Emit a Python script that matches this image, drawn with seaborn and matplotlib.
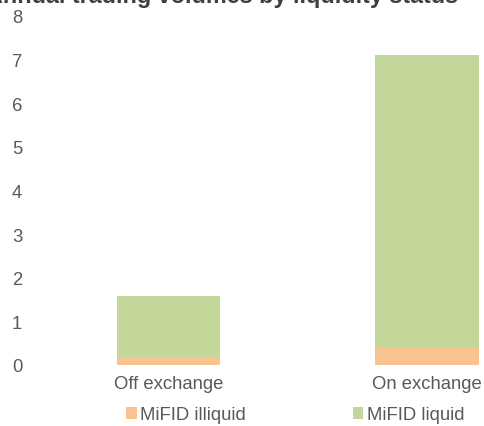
import matplotlib
matplotlib.use("Agg")
import matplotlib.pyplot as plt
from matplotlib.patches import Patch
import seaborn as sns
import pandas as pd

# Trading volumes by venue and MiFID liquidity status
venues = ["Off exchange", "On exchange"]
illiquid = [0.19, 0.39]
liquid = [1.39, 6.72]
series_names = ["MiFID illiquid", "MiFID liquid"]
y_ticks = [0, 1, 2, 3, 4, 5, 6, 7, 8]
title = "Annual trading volumes by liquidity status"

col_illiquid = "#F8C291"
col_liquid = "#C4D79B"
text_col = "#595959"

sns.set_theme(style="white")
plt.rcParams["font.family"] = ["Liberation Sans", "DejaVu Sans"]

df = pd.DataFrame({
    "venue": venues,
    "illiquid": illiquid,
    "total": [a + b for a, b in zip(illiquid, liquid)],
})

W, H = 485, 427
fs = 13.3
fig = plt.figure(figsize=(W / 100, H / 100), dpi=100)
ax = fig.add_axes([39 / W, 1 - 366 / H, (W - 39) / W, (366 - 17) / H])

# stacked bars: full height in green, illiquid share over it from zero
sns.barplot(data=df, x="venue", y="total", color=col_liquid, width=0.4,
            saturation=1, ax=ax, linewidth=0)
sns.barplot(data=df, x="venue", y="illiquid", color=col_illiquid, width=0.4,
            saturation=1, ax=ax, linewidth=0)

ax.set_xlim(-0.5, 1.225)
ax.set_ylim(0, 8)
ax.set_yticks(y_ticks)
ax.set_yticklabels([str(t) for t in y_ticks])
ax.set_xlabel("")
ax.set_ylabel("")
for s in ax.spines.values():
    s.set_visible(False)
ax.tick_params(axis="both", length=0, labelsize=fs, labelcolor=text_col)
ax.tick_params(axis="y", pad=12)
ax.tick_params(axis="x", pad=7)

fig.text(222 / W, 1 - 3 / H, title, ha="center", va="baseline",
         fontsize=16.8, fontweight="bold", color="#404040")

handles = [Patch(facecolor=col_illiquid, edgecolor="none"),
           Patch(facecolor=col_liquid, edgecolor="none")]
fig.legend(handles, series_names, loc="center", bbox_to_anchor=(295.5 / W, 1 - 416 / H),
           ncol=2, frameon=False, fontsize=fs, labelcolor=text_col,
           handlelength=0.55, handleheight=0.55, handletextpad=0.2,
           columnspacing=5.8, borderpad=0, borderaxespad=0)

fig.savefig("out.png", dpi=100)
